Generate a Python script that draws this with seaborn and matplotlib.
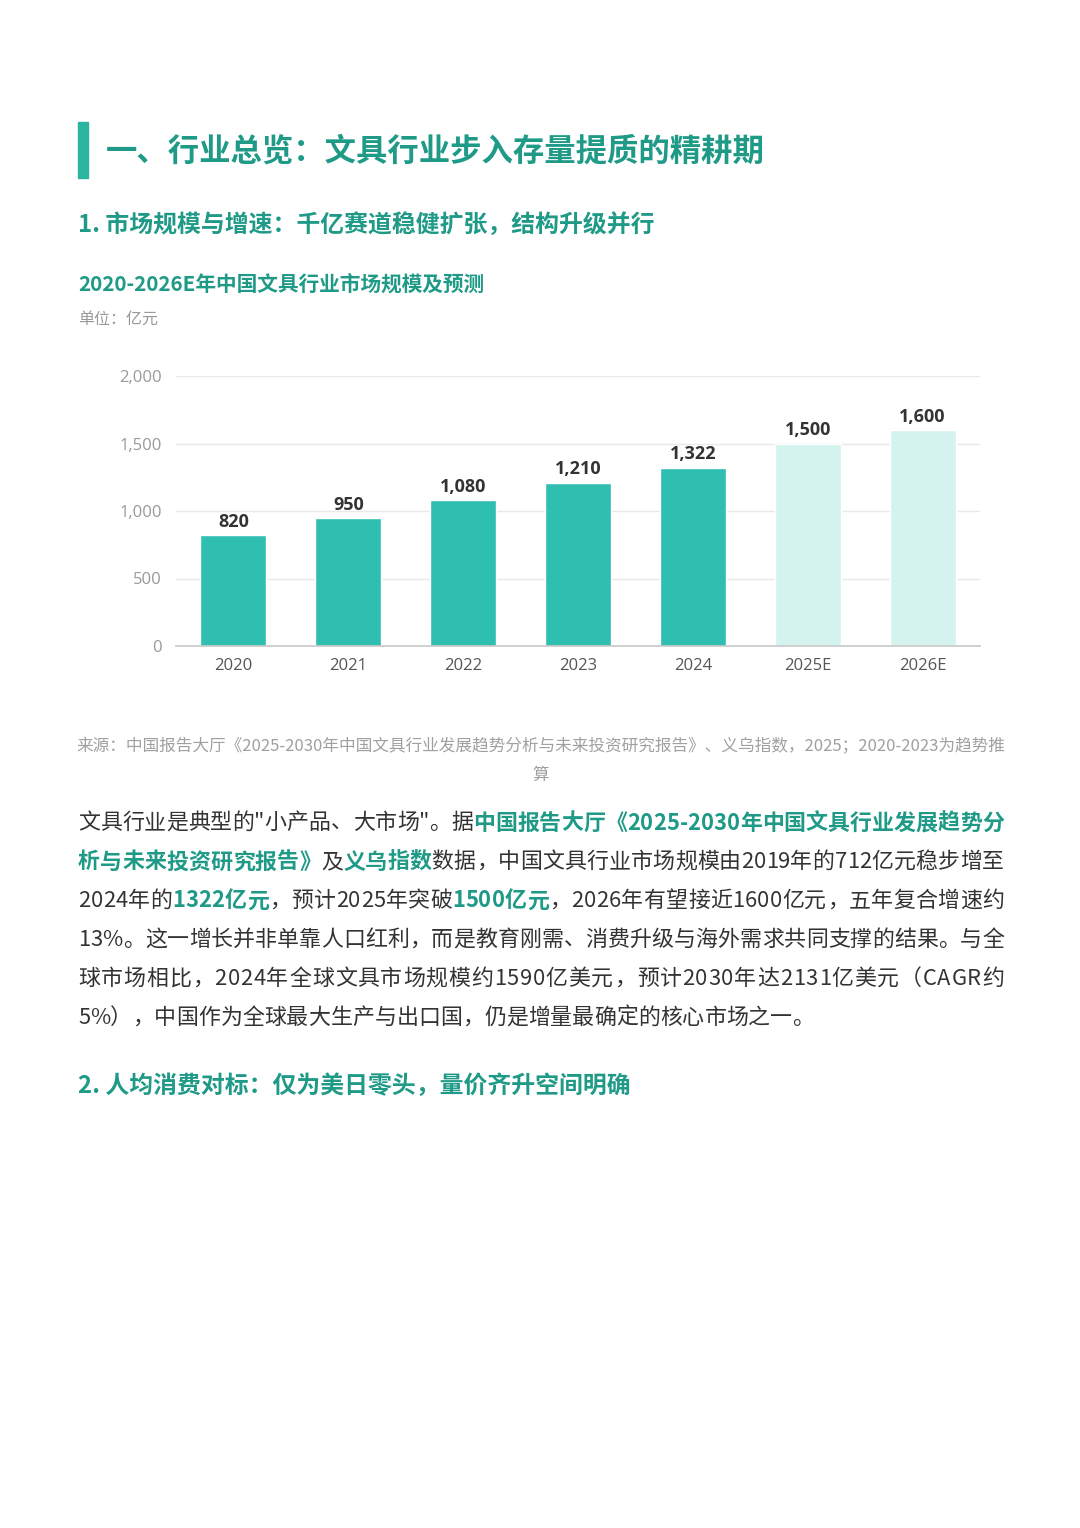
import pandas as pd
import seaborn as sns
import matplotlib.pyplot as plt

# chart data
years = ["2020", "2021", "2022", "2023", "2024", "2025E", "2026E"]
market_size = [820, 950, 1080, 1210, 1322, 1500, 1600]
kind = ["实际", "实际", "实际", "实际", "实际", "预测", "预测"]
y_ticks = [0, 500, 1000, 1500, 2000]

TEAL = "#2fbfb0"
LIGHT = "#d4f3ee"
HEAD = "#1f9a87"
CJK = ["Noto Sans CJK SC", "DejaVu Sans"]
NUM = ["Open Sans", "Noto Sans CJK SC", "DejaVu Sans"]

W, H = 1080, 1528


def px(x, y):
    return x / W, 1 - y / H


sns.set_theme(style="white")
plt.rcParams["font.family"] = CJK

fig = plt.figure(figsize=(W / 100, H / 100), dpi=100)
fig.patch.set_facecolor("white")

# chart area
ax = fig.add_axes([176 / W, 1 - 646 / H, (980 - 176) / W, 270 / H])
df = pd.DataFrame({"year": years, "size": market_size, "kind": kind})
sns.barplot(data=df, x="year", y="size", hue="kind",
            palette={"实际": TEAL, "预测": LIGHT}, dodge=False,
            width=0.575, legend=False, ax=ax, saturation=1)
ax.set_xlim(-0.5, 6.5)
ax.set_ylim(0, 2000)
ax.set_yticks(y_ticks)
ax.set_yticklabels([f"{v:,}" for v in y_ticks], family=NUM, fontsize=12, color="#999999")
ax.set_xticks(range(len(years)))
ax.set_xticklabels(years, family=NUM, fontsize=12, color="#555555")
ax.tick_params(axis="y", length=0, pad=10)
ax.tick_params(axis="x", length=0, pad=9)
ax.set_xlabel("")
ax.set_ylabel("")
ax.yaxis.grid(True, color="#e9e9e9", linewidth=1)
ax.set_axisbelow(True)
for s in ["top", "right", "left"]:
    ax.spines[s].set_visible(False)
ax.spines["bottom"].set_color("#c8c8c8")
ax.spines["bottom"].set_linewidth(1.2)
for container in ax.containers:
    ax.bar_label(container, labels=[f"{v:,.0f}" for v in container.datavalues],
                 padding=3, fontsize=13, fontweight="bold", color="#333333", family=NUM)

# headings
fig.patches.append(plt.Rectangle(px(78, 178), 10 / W, 56 / H, transform=fig.transFigure,
                                 color="#2bb5a0", zorder=5))
fig.text(*px(106, 152), "一、行业总览：文具行业步入存量提质的精耕期", fontsize=22.6,
         fontweight="bold", color=HEAD, va="center")
fig.text(*px(78, 225), "1. 市场规模与增速：千亿赛道稳健扩张，结构升级并行", fontsize=17.2,
         fontweight="bold", color=HEAD, va="center")
fig.text(*px(78, 284), "2020-2026E年中国文具行业市场规模及预测", fontsize=14.9,
         fontweight="bold", color=HEAD, va="center")
fig.text(*px(78, 319), "单位：亿元", fontsize=11.5, color="#999999", va="center")

# source note
fig.text(*px(541, 746), "来源：中国报告大厅《2025-2030年中国文具行业发展趋势分析与未来投资研究报告》、义乌指数，2025；2020-2023为趋势推",
         fontsize=12, color="#a0a0a0", va="center", ha="center")
fig.text(*px(541, 775), "算", fontsize=12, color="#a0a0a0", va="center", ha="center")

# paragraph with highlighted spans
para = [
    [("文具行业是典型的\"小产品、大市场\"。据", 0), ("中国报告大厅《2025-2030年中国文具行业发展趋势分", 1)],
    [("析与未来投资研究报告》", 1), ("及", 0), ("义乌指数", 1), ("数据，中国文具行业市场规模由2019年的712亿元稳步增至", 0)],
    [("2024年的", 0), ("1322亿元", 1), ("，预计2025年突破", 0), ("1500亿元", 1), ("，2026年有望接近1600亿元，五年复合增速约", 0)],
    [("13%。这一增长并非单靠人口红利，而是教育刚需、消费升级与海外需求共同支撑的结果。与全", 0)],
    [("球市场相比，2024年全球文具市场规模约1590亿美元，预计2030年达2131亿美元（CAGR约", 0)],
    [("5%），中国作为全球最大生产与出口国，仍是增量最确定的核心市场之一。", 0)],
]
PARA_LEFT, PARA_RIGHT = 78, 1004
renderer = fig.canvas.get_renderer()
for i, line in enumerate(para):
    y = 823 + i * 39
    chars = [(c, hl) for txt, hl in line for c in txt]
    texts = []
    for c, hl in chars:
        t = fig.text(0, 0, c, fontsize=15.8, va="center",
                     color=HEAD if hl else "#333333",
                     fontweight="bold" if hl else "normal")
        texts.append((t, t.get_window_extent(renderer).width))
    total = sum(w for _, w in texts)
    last = i == len(para) - 1
    gap = 0 if last else (PARA_RIGHT - PARA_LEFT - total) / (len(texts) - 1)
    x = PARA_LEFT
    for t, w in texts:
        t.set_position(px(x, y))
        x += w + gap

fig.text(*px(78, 1086), "2. 人均消费对标：仅为美日零头，量价齐升空间明确", fontsize=17.2,
         fontweight="bold", color=HEAD, va="center")

fig.savefig("out.png", dpi=100, facecolor="white")
